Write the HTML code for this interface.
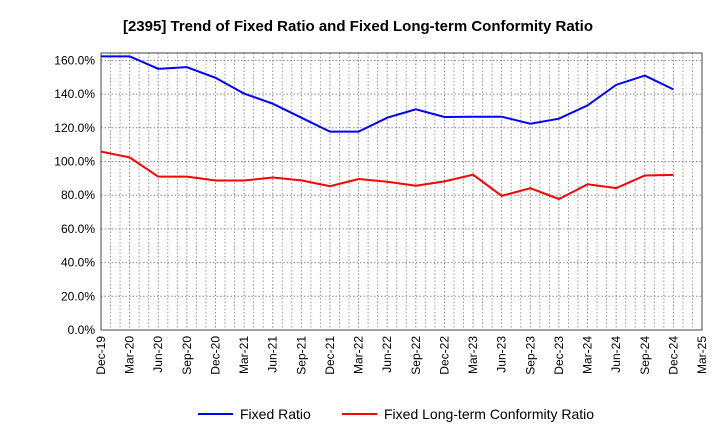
<!DOCTYPE html>
<html><head><meta charset="utf-8"><style>
body{margin:0;background:#fff;font-family:"Liberation Sans",Arial,sans-serif}
svg text{font-family:"Liberation Sans",Arial,sans-serif}
</style></head><body>
<svg id="c" width="720" height="440">
<text x="358" y="31" text-anchor="middle" font-size="15" font-weight="bold">[2395]  Trend of Fixed Ratio and Fixed Long-term Conformity Ratio</text>
<g id="grid"></g><g id="axes"></g><g id="series"></g>
<g>
<line x1="198" y1="414" x2="233" y2="414" stroke="#0000ff" stroke-width="2"/>
<text x="240" y="419" font-size="14">Fixed Ratio</text>
<line x1="342" y1="414" x2="377" y2="414" stroke="#ff0000" stroke-width="2"/>
<text x="384" y="419" font-size="14">Fixed Long-term Conformity Ratio</text>
</g>
</svg>
<script>
const categories=["Dec-19","Mar-20","Jun-20","Sep-20","Dec-20","Mar-21","Jun-21","Sep-21","Dec-21","Mar-22","Jun-22","Sep-22","Dec-22","Mar-23","Jun-23","Sep-23","Dec-23","Mar-24","Jun-24","Sep-24","Dec-24","Mar-25"];
const fixedRatio=[162.4,162.4,155,156,149.7,140.3,134.3,126,117.7,117.7,126,131,126.4,126.6,126.6,122.4,125.4,133.3,145.5,151,142.8];
const conformityRatio=[105.9,102.4,91,91,88.7,88.7,90.5,88.8,85.3,89.6,88,85.6,88.2,92.2,79.6,84.2,77.7,86.5,84.2,91.7,92.1];
const yTicks=[0,20,40,60,80,100,120,140,160];
const NS="http://www.w3.org/2000/svg";
const L=101,R=702,T=53,B=330,YMAX=164.4;
const step=(R-L)/(categories.length-1);
const xs=i=>L+i*step;
const ys=v=>B-v*(B-T)/YMAX;
function mk(tag,attrs,parent){const e=document.createElementNS(NS,tag);for(const k in attrs)e.setAttribute(k,attrs[k]);document.getElementById(parent).appendChild(e);return e;}
for(let m=0;m<(categories.length-1)*3;m++){
 if(m%3===0)continue;
 const g=mk('line',{x1:L+m*step/3,x2:L+m*step/3,y1:T,y2:B,stroke:'#999','stroke-dasharray':'1.5,2','stroke-width':1},'grid');
 
 
}
categories.forEach((c,i)=>{
 const g=mk('line',{x1:xs(i),x2:xs(i),y1:T,y2:B,stroke:'#888','stroke-dasharray':'1.5,2','stroke-width':1},'grid');
 
 
 const t=mk('text',{x:0,y:0,'font-size':12,'text-anchor':'end',transform:`translate(${xs(i)+4},${B+6}) rotate(-90)`},'axes');
 t.textContent=c;
 
 
});
yTicks.forEach(v=>{
 const g=mk('line',{x1:L,x2:R,y1:ys(v),y2:ys(v),stroke:'#888','stroke-dasharray':'1.5,2','stroke-width':1},'grid');
 
 
 const t=mk('text',{x:L-6,y:ys(v)+4,'font-size':12,'text-anchor':'end'},'axes');
 t.textContent=v.toFixed(1)+'%';
 
 
});
const fr=mk('rect',{x:L,y:T,width:R-L,height:B-T,fill:'none',stroke:'#444','stroke-width':1},'axes');


function line(vals,color,name){
 const p=mk('polyline',{points:vals.map((v,i)=>xs(i)+','+ys(v)).join(' '),fill:'none',stroke:color,'stroke-width':2},'series');
 
 
}
line(fixedRatio,'#0000ff','fixed-ratio-line');
line(conformityRatio,'#ff0000','conformity-ratio-line');
</script>
</body></html>
